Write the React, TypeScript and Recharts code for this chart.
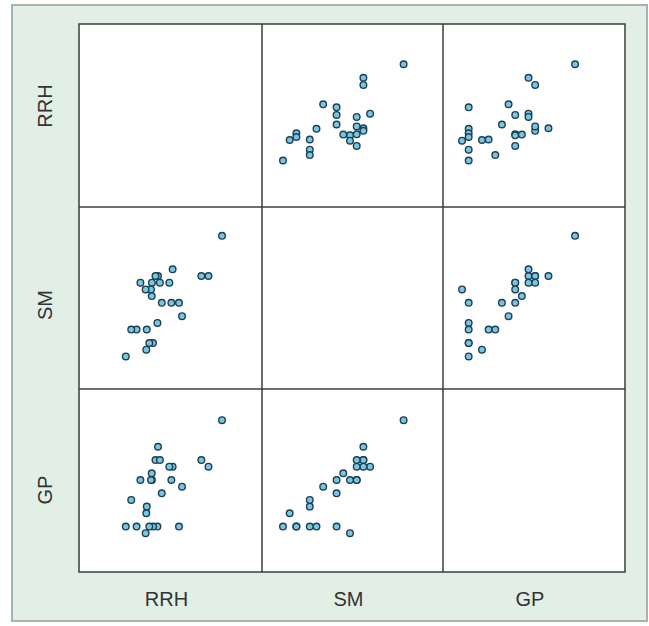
import React from 'react';
import { ScatterChart, Scatter, XAxis, YAxis } from 'recharts';

// Variable names (row / column labels)
const variables = ['RRH', 'SM', 'GP'];

const rrh = [14.36, 6.99, 12.34, 11.28, 4.81, 4.43, 6.5, 5.09, 3.9, 2.18, 3.76, 2.96, 3.87, 7.94, 6.8, 5.37, 8.39, 4.72, 3.13, 1.61, 0.81, 4.06, 3.51, 3.06, 0];
const sm = [18, 13, 12, 12, 12, 12, 11, 11, 11, 11, 10, 10, 9, 8, 8, 8, 6, 5, 4, 4, 4, 2, 2, 1, 0];
const gp = [17, 10, 10, 11, 13, 11, 10, 11, 8, 8, 8, 0, 9, 1, 8, 6, 7, 1, 4, 1, 5, 1, 1, 3, 1];

const series = [rrh, sm, gp];

// axis ranges used when a variable is on the x axis (columns) / y axis (rows)
const colDomains: [number, number][] = [[-6.985, 20.33], [-3.13, 23.88], [-2.86, 24.51]];
const rowDomains: [number, number][] = [[-6.94, 20.37], [-4.87, 22.3], [-5.83, 21.68]];

const colEdges = [79, 262, 443, 625];
const rowEdges = [24, 207, 389, 572];
const rowLabelY = [106, 305, 490];

const Dot = (props: any) => {
  const { cx, cy } = props;
  if (cx == null || cy == null) return null;
  return <circle cx={cx} cy={cy} r={3.3} fill="#78c6e4" stroke="#1e3f4f" strokeWidth={1.4} />;
};

export default function App() {
  const panels: React.ReactNode[] = [];
  for (let i = 0; i < 3; i++) {
    for (let j = 0; j < 3; j++) {
      if (i === j) continue;
      const w = colEdges[j + 1] - colEdges[j];
      const h = rowEdges[i + 1] - rowEdges[i];
      const data = series[j].map((v, k) => ({ x: v, y: series[i][k] }));
      panels.push(
        <div key={`${i}-${j}`} style={{ position: 'absolute', left: colEdges[j], top: rowEdges[i], width: w, height: h }}>
          <ScatterChart width={w} height={h} margin={{ top: 0, right: 0, bottom: 0, left: 0 }}>
            <XAxis type="number" dataKey="x" domain={colDomains[j]} hide allowDataOverflow />
            <YAxis type="number" dataKey="y" domain={rowDomains[i]} hide allowDataOverflow />
            <Scatter data={data} isAnimationActive={false} shape={Dot} />
          </ScatterChart>
        </div>
      );
    }
  }

  const lineColor = '#3d3d3d';
  const font = '"Liberation Sans", Arial, sans-serif';

  return (
    <div style={{ position: 'absolute', left: 0, top: 0, width: 649, height: 626, background: '#ffffff', overflow: 'hidden' }}>
      <div style={{ position: 'absolute', left: 11, top: 4, width: 633, height: 614, background: '#e1efe6', border: '2px solid #aab3ab' }} />
      <div style={{ position: 'absolute', left: colEdges[0], top: rowEdges[0], width: colEdges[3] - colEdges[0], height: rowEdges[3] - rowEdges[0], background: '#ffffff' }} />
      {panels}
      <svg width={649} height={626} style={{ position: 'absolute', left: 0, top: 0, pointerEvents: 'none' }}>
        <rect x={colEdges[0]} y={rowEdges[0]} width={colEdges[3] - colEdges[0]} height={rowEdges[3] - rowEdges[0]} fill="none" stroke={lineColor} strokeWidth={1.5} />
        {[1, 2].map((k) => (
          <line key={`v${k}`} x1={colEdges[k]} x2={colEdges[k]} y1={rowEdges[0]} y2={rowEdges[3]} stroke={lineColor} strokeWidth={1.5} />
        ))}
        {[1, 2].map((k) => (
          <line key={`h${k}`} y1={rowEdges[k]} y2={rowEdges[k]} x1={colEdges[0]} x2={colEdges[3]} stroke={lineColor} strokeWidth={1.5} />
        ))}
        {variables.map((name, k) => (
          <text key={`b${k}`} x={(colEdges[k] + colEdges[k + 1]) / 2 - 4} y={599} textAnchor="middle" dominantBaseline="central" fontFamily={font} fontSize={20} fill="#333">
            {name}
          </text>
        ))}
        {variables.map((name, k) => {
          const cy = rowLabelY[k];
          return (
            <text key={`l${k}`} x={45} y={cy} textAnchor="middle" dominantBaseline="central" fontFamily={font} fontSize={20} fill="#333" transform={`rotate(-90 45 ${cy})`}>
              {name}
            </text>
          );
        })}
      </svg>
    </div>
  );
}
